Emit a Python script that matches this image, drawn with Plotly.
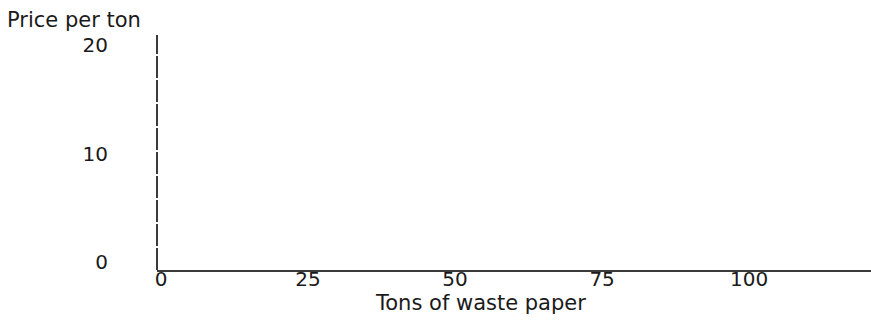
import plotly.graph_objects as go

# Data (empty chart: only axes)
x_tick_vals = [0, 25, 50, 75, 100]
x_tick_text = ["0", "25", "50", "75", "100"]
y_tick_vals = [0, 10, 20]
y_tick_text = ["0", "10", "20"]
x_range = [0, 121.4]
y_range = [0, 21.7]

x_title = "Tons of waste paper"
y_title = "Price per ton"

FONT = "DejaVu Sans, Verdana, sans-serif"
FS = 20
FS_T = 21
TXT = "#1a1a1a"
LINE = "#3a3a3a"

fig = go.Figure()
fig.add_trace(go.Scatter(x=[], y=[], mode="markers", showlegend=False))

fig.update_layout(
    width=871, height=322,
    margin=dict(l=157, r=0, t=35, b=52),
    paper_bgcolor="white", plot_bgcolor="white",
    showlegend=False,
    font=dict(family=FONT, size=FS, color=TXT),
    xaxis=dict(
        range=x_range, tickmode="array", tickvals=x_tick_vals, ticktext=x_tick_text,
        showgrid=False, zeroline=False, showline=True, linecolor=LINE, linewidth=2,
        ticks="", ticklabelstandoff=-10, ticklabelshift=4,
        tickfont=dict(family=FONT, size=FS, color=TXT),
    ),
    yaxis=dict(
        range=y_range, tickmode="array", tickvals=y_tick_vals, ticktext=y_tick_text,
        showgrid=False, zeroline=False, showline=False,
        ticks="", ticklabelstandoff=48, ticklabelshift=-8,
        tickfont=dict(family=FONT, size=FS, color=TXT),
    ),
    shapes=[dict(
        type="line", xref="paper", yref="paper", x0=0, x1=0, y0=0, y1=1,
        line=dict(color=LINE, width=2, dash="22px,2px"),
    )],
    annotations=[
        dict(text=y_title, xref="paper", yref="paper", x=-157/714, y=1 + 35/235,
             xanchor="left", yanchor="top", showarrow=False, xshift=5, yshift=-6,
             font=dict(family=FONT, size=FS_T, color=TXT)),
        dict(text=x_title, xref="paper", yref="paper", x=(480 - 157) / 714, y=0,
             xanchor="center", yanchor="top", showarrow=False, yshift=-19,
             font=dict(family=FONT, size=FS_T, color=TXT)),
    ],
)

fig.write_html(
    "out.html",
    config={"displayModeBar": False},
    post_script="document.body.style.margin='0';document.body.style.overflow='hidden';",
)
